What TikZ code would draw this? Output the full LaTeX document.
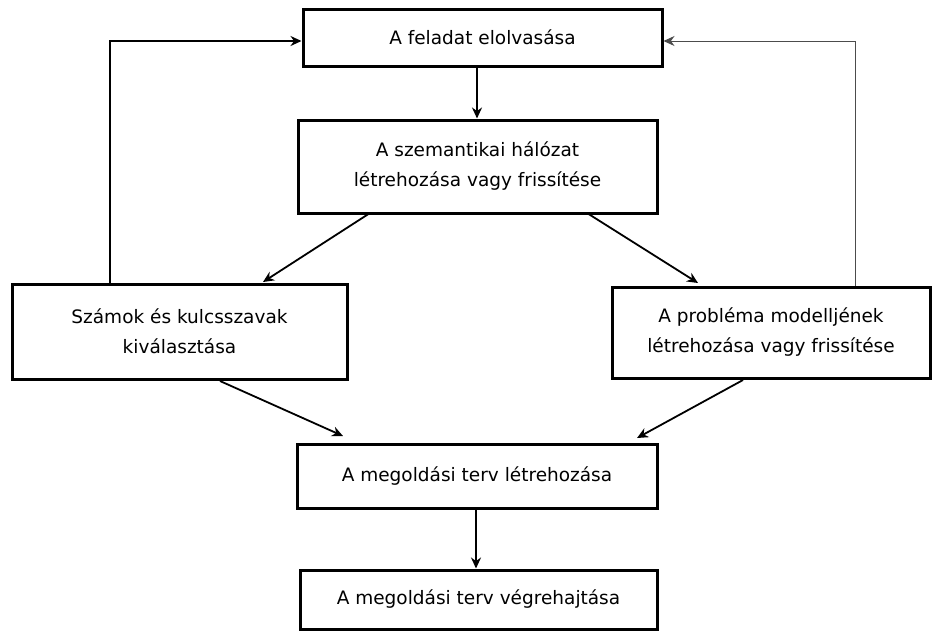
\documentclass[tikz,border=0pt]{standalone}
\usepackage{fontspec}
\setmainfont{DejaVu Sans}
\usetikzlibrary{arrows.meta}
\begin{document}
\begin{tikzpicture}[x=1pt,y=-1pt,
  box/.style={draw=black,line width=3pt,align=center,font=\fontsize{18.5}{30}\selectfont,inner sep=0pt},
  conn/.style={line width=1.8pt,-{Stealth[length=11pt,width=10pt]}},
  thin/.style={line width=1pt,draw=black!70,-{Stealth[length=11pt,width=10pt]}}]
\useasboundingbox (0,0) rectangle (933,630);
\node[box,minimum width=359pt,minimum height=57pt] (b1) at (482.5,37.5) {A feladat elolvasása};
\node[box,minimum width=359pt,minimum height=93pt] (b2) at (477.5,166.5) {A szemantikai hálózat\\létrehozása vagy frissítése};
\node[box,minimum width=335pt,minimum height=95pt] (b3) at (179.5,331.5) {Számok és kulcsszavak\\kiválasztása};
\node[box,minimum width=318pt,minimum height=91pt] (b4) at (771,332.5) {A probléma modelljének\\létrehozása vagy frissítése};
\node[box,minimum width=360pt,minimum height=64pt] (b5) at (477,476) {A megoldási terv létrehozása};
\node[box,minimum width=357pt,minimum height=59pt] (b6) at (478.5,599.5) {A megoldási terv végrehajtása};
\coordinate (l1) at (110,41);
\coordinate (r1) at (855,41);
\draw[conn] (b1.south -| 477,0) -- (b2.north -| 477,0);
\draw[conn] (b5.south -| 476,0) -- (b6.north -| 476,0);
\draw[conn] (370,213) -- (263,282);
\draw[conn] (587,213) -- (698,283);
\draw[conn] (220,381) -- (343,436);
\draw[conn] (743,380) -- (637,438);
\draw[conn] (b3.north -| l1) -- (l1) -- (l1 -| b1.west);
\draw[thin] (b4.north -| r1) -- (r1) -- (r1 -| b1.east);
\end{tikzpicture}
\end{document}
